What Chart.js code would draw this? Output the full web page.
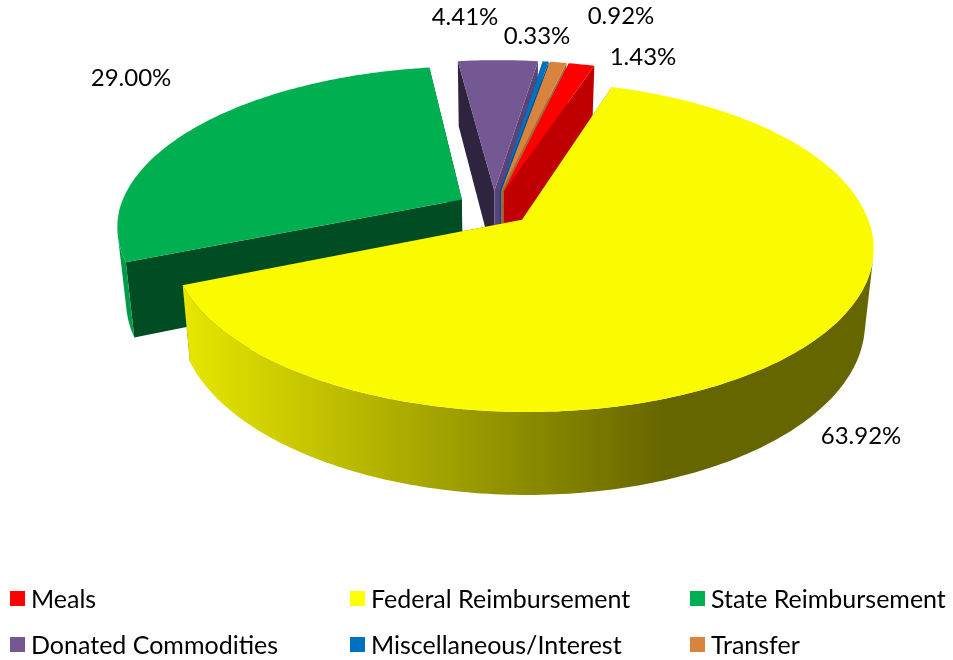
<!DOCTYPE html>
<html>
<head>
<meta charset="utf-8">
<title>Revenue sources</title>
<script src="https://cdn.jsdelivr.net/npm/chart.js@4"></script>
<style>
  html, body { margin: 0; background: #fff; }
  #wrap { position: relative; width: 953px; height: 660px; overflow: hidden; }
  #legend div { position: absolute; font: 25px Lato, sans-serif; color: #000; line-height: 28px; white-space: nowrap; }
  #legend i { position: absolute; left: -21px; top: 7px; width: 15px; height: 15px; }
</style>
</head>
<body>
<div id="wrap">
  <canvas id="pie" width="953" height="660"></canvas>
  <div id="legend"></div>
</div>
<script>
const categories = ['Meals', 'Federal Reimbursement', 'State Reimbursement', 'Donated Commodities', 'Miscellaneous/Interest', 'Transfer'];
const shares = [1.43, 63.92, 29.00, 4.41, 0.33, 0.92];
const topColors = ['#ff0000', '#fbfb00', '#00b050', '#745893', '#0070c0', '#d9843e'];
const legendColors = ['#ff0000', '#ffff00', '#00b050', '#75588f', '#0070c0', '#d9843e'];
const startWalls = ['#c00000', '#666600', '#004d23', '#2e2440', '#00508a', '#a8683a'];
const endWalls = ['#c00000', '#666600', '#004d23', '#5b4379', '#00508a', '#a8683a'];
const rimColors = ['#c00000', null, '#009a48', '#5b4379', '#00508a', '#a8683a'];

// painter's order: back wedges first, the big front one last
const drawOrder = [3, 4, 5, 0, 2, 1];
const labelAnchors = [[643, 57], [861, 436], [131, 78], [465, 17], [537, 36], [621, 16]];
const legendSpots = [[31, 584], [371, 584], [711, 584], [31, 630], [371, 630], [711, 630]];

// perspective of the tilted plate
const view = { cx: 494, cy: 208, sx: 342, sy: 157, persp: 0.161, depth: 72.5, shrink: 0.977, skew: -4 };

function project(u, v, low) {
  const w = 1 / (1 - view.persp * v);
  const s = low ? view.shrink : 1;
  return {
    x: view.cx + view.sx * u * w * s + (v < 0 ? view.skew * v : 0),
    y: view.cy + view.sy * v * w * s + (low ? view.depth * w : 0),
  };
}

function tracePoly(ctx, pts) {
  pts.forEach((p, i) => (i ? ctx.lineTo(p.x, p.y) : ctx.moveTo(p.x, p.y)));
  ctx.closePath();
}

function fillPoly(ctx, pts, fill) {
  ctx.beginPath();
  tracePoly(ctx, pts);
  ctx.fillStyle = fill;
  ctx.fill();
}

function signedArea(pts) {
  return pts.reduce((sum, p, i) => {
    const q = pts[(i + 1) % pts.length];
    return sum + p.x * q.y - q.x * p.y;
  }, 0);
}

function drawSlice(ctx, arc, index) {
  const mid = (arc.startAngle + arc.endAngle) / 2;
  const shift = arc.options.offset / arc.outerRadius;
  const ox = Math.cos(mid) * shift;
  const oy = Math.sin(mid) * shift;
  const steps = Math.max(4, Math.ceil((arc.endAngle - arc.startAngle) * 60));
  const top = [];
  const low = [];
  for (let i = 0; i <= steps; i += 1) {
    const a = arc.startAngle + (arc.endAngle - arc.startAngle) * i / steps;
    top.push(project(ox + Math.cos(a), oy + Math.sin(a), false));
    low.push(project(ox + Math.cos(a), oy + Math.sin(a), true));
  }
  const apexTop = project(ox, oy, false);
  const apexLow = project(ox, oy, true);

  fillPoly(ctx, [apexTop, top[0], low[0], apexLow], startWalls[index]);
  fillPoly(ctx, [apexTop, top[steps], low[steps], apexLow], endWalls[index]);

  let rim = rimColors[index];
  if (!rim) {
    rim = ctx.createLinearGradient(185, 0, 665, 0);
    rim.addColorStop(0, '#e6e600');
    rim.addColorStop(1, '#666600');
  }
  // only the quads facing the viewer, all in one path so no seams show
  ctx.beginPath();
  for (let i = 0; i < steps; i += 1) {
    const quad = [top[i], top[i + 1], low[i + 1], low[i]];
    if (signedArea(quad) < 0) tracePoly(ctx, quad);
  }
  ctx.fillStyle = rim;
  ctx.fill();
  fillPoly(ctx, [apexTop].concat(top), topColors[index]);
}

const plate3d = {
  id: 'plate3d',
  beforeDatasetsDraw(chart) {
    const ctx = chart.ctx;
    const arcs = chart.getDatasetMeta(0).data;
    ctx.save();
    drawOrder.forEach((i) => drawSlice(ctx, arcs[i], i));
    ctx.font = '24px Lato, sans-serif';
    ctx.fillStyle = '#000';
    ctx.textAlign = 'center';
    ctx.textBaseline = 'middle';
    shares.forEach((value, i) => {
      ctx.fillText(value.toFixed(2) + '%', labelAnchors[i][0], labelAnchors[i][1]);
    });
    ctx.restore();
    return false; // the plate above replaces the flat arcs
  },
};

new Chart(document.getElementById('pie'), {
  type: 'pie',
  data: {
    labels: categories,
    datasets: [{ data: shares, backgroundColor: topColors, offset: 34.4, borderWidth: 0 }],
  },
  options: {
    responsive: false,
    animation: false,
    rotation: 12.35,
    plugins: { legend: { display: false }, tooltip: { enabled: false } },
  },
  plugins: [plate3d],
});

const legend = document.getElementById('legend');
categories.forEach((name, i) => {
  const row = document.createElement('div');
  row.style.left = legendSpots[i][0] + 'px';
  row.style.top = legendSpots[i][1] + 'px';
  row.innerHTML = `<i style="background:${legendColors[i]}"></i>${name}`;
  legend.appendChild(row);
});
</script>
</body>
</html>
